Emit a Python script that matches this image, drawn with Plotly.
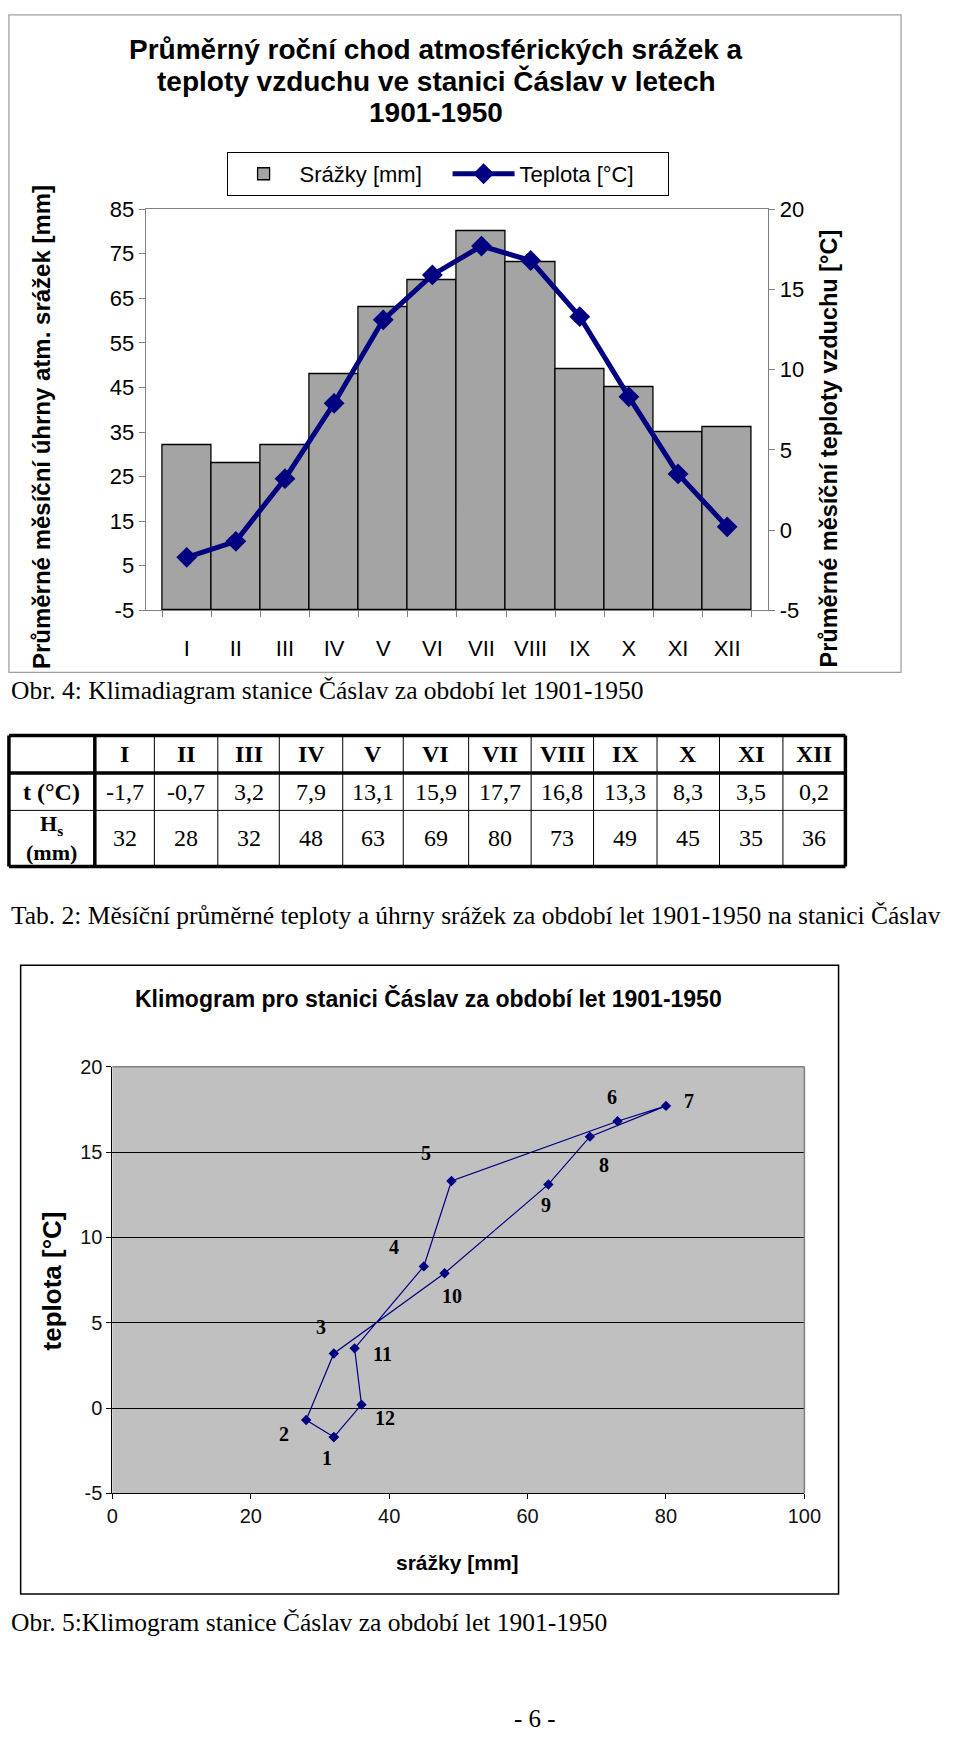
import plotly.graph_objects as go

# ---------------- data ----------------
months = ["I", "II", "III", "IV", "V", "VI", "VII", "VIII", "IX", "X", "XI", "XII"]
temps = [-1.7, -0.7, 3.2, 7.9, 13.1, 15.9, 17.7, 16.8, 13.3, 8.3, 3.5, 0.2]
precip = [32, 28, 32, 48, 63, 69, 80, 73, 49, 45, 35, 36]

left_ticks = [-5, 5, 15, 25, 35, 45, 55, 65, 75, 85]
right_ticks = [-5, 0, 5, 10, 15, 20]
klimo_x_ticks = [0, 20, 40, 60, 80, 100]
klimo_y_ticks = [-5, 0, 5, 10, 15, 20]

# labels of the klimogram points as printed in the figure, and the point each one sits next to
klimo_labels = ["1", "2", "3", "4", "5", "6", "7", "8", "9", "10", "11", "12"]
klimo_label_point = [0, 1, 2, 9, 8, 7, 6, 5, 4, 3, 10, 11]

title1_lines = ["Průměrný roční chod atmosférických srážek a",
                "teploty vzduchu ve stanici Čáslav v letech",
                "1901-1950"]
title2 = "Klimogram pro stanici Čáslav za období let 1901-1950"
cap1 = "Obr. 4: Klimadiagram stanice Čáslav za období let 1901-1950"
cap2 = "Tab. 2: Měsíční průměrné teploty a úhrny srážek za období let 1901-1950 na stanici Čáslav"
cap3 = "Obr. 5:Klimogram stanice Čáslav za období let 1901-1950"
row_heads = ["t (°C)", "H<sub>s</sub><br>(mm)"]

# ---------------- layout helpers ----------------
W, H = 960, 1743
SANS = "Liberation Sans, Arial, sans-serif"
SERIF = "Liberation Serif, Times New Roman, serif"


def px(x):
    return x / W


def py(y):
    return 1 - y / H


def tick_text(vals):
    return [str(v) for v in vals]


# label offsets in pixels (dx right, dy down)
label_off = [(-7, 21), (-22, 14), (-13, -26), (-30, -19), (-25, -28), (-6, -24),
             (23, -5), (14, 28), (-2, 21), (7, 23), (28, 6), (23, 13)]

fig = go.Figure()

# ---------- top chart ----------
LEFT_MIN = left_ticks[0]
fig.add_trace(go.Bar(
    x=months, y=[p - LEFT_MIN for p in precip], base=LEFT_MIN,
    name="Srážky [mm]", marker=dict(color="#A4A4A4", line=dict(color="black", width=1.3)),
    xaxis="x", yaxis="y"))
fig.add_trace(go.Scatter(
    x=months, y=temps, name="Teplota [°C]", mode="lines+markers",
    line=dict(color="#000080", width=5),
    marker=dict(symbol="diamond", size=16, color="#000080"),
    xaxis="x", yaxis="y2"))

# ---------- klimogram ----------
fig.add_trace(go.Scatter(
    x=precip + precip[:1], y=temps + temps[:1], mode="lines+markers",
    line=dict(color="#000080", width=1.2),
    marker=dict(symbol="diamond", size=8, color="#000080"),
    showlegend=False, xaxis="x2", yaxis="y3"))

ax_common = dict(showgrid=False, zeroline=False, ticks="outside", ticklen=6,
                 tickcolor="#808080", linecolor="#808080", showline=True)

layout = dict(
    width=W, height=H, margin=dict(l=0, r=0, t=0, b=0),
    paper_bgcolor="white", plot_bgcolor="rgba(0,0,0,0)",
    bargap=0,
    font=dict(family=SANS, color="black"),
    xaxis=dict(domain=[px(143), px(781)], anchor="y", type="category",
               tickson="boundaries", mirror=True, ticklabelstandoff=18,
               tickfont=dict(size=22, family=SANS), **ax_common),
    yaxis=dict(domain=[py(607), py(200)], anchor="x", range=[-5, 85],
               tickvals=left_ticks, ticktext=tick_text(left_ticks),
               tickfont=dict(size=22, family=SANS), **ax_common),
    yaxis2=dict(domain=[py(607), py(200)], anchor="x", overlaying="y", side="right",
                range=[-5, 20], tickvals=right_ticks, ticktext=tick_text(right_ticks),
                tickfont=dict(size=22, family=SANS), **ax_common),
    xaxis2=dict(domain=[px(109), px(818)], anchor="y3", range=[0, 100],
                tickvals=klimo_x_ticks, ticktext=tick_text(klimo_x_ticks),
                showgrid=False, zeroline=False, ticks="outside",
                ticklen=5, tickcolor="black", showline=True, linecolor="black",
                tickfont=dict(size=20, family=SANS, color="#111")),
    yaxis3=dict(domain=[py(1503), py(1070)], anchor="x2", range=[-5, 20],
                tickvals=klimo_y_ticks, ticktext=tick_text(klimo_y_ticks),
                showgrid=True, gridcolor="black", gridwidth=1,
                zeroline=False, ticks="outside", ticklen=5, tickcolor="black",
                showline=True, linecolor="black",
                tickfont=dict(size=20, family=SANS, color="#111")),
    legend=dict(orientation="h", x=px(226), y=py(142), xanchor="left", yanchor="top",
                bordercolor="black", borderwidth=1, bgcolor="white",
                font=dict(size=22, family=SANS), itemwidth=62, entrywidth=143,
                traceorder="normal"),
)
fig.update_layout(**layout)

shapes = []
annotations = []


def text(t, x, y, size, family=SANS, xanchor="center", yanchor="middle", angle=0):
    annotations.append(dict(text=t, xref="paper", yref="paper", x=px(x), y=py(y),
                            xanchor=xanchor, yanchor=yanchor, textangle=angle,
                            showarrow=False, font=dict(size=size, family=family, color="black")))


# outer frame of top chart
shapes.append(dict(type="rect", xref="paper", yref="paper", x0=px(3), x1=px(917),
                   y0=py(670), y1=py(3), line=dict(color="#A0A0A0", width=1.3)))
# klimogram frame
shapes.append(dict(type="rect", xref="paper", yref="paper", x0=px(15), x1=px(853),
                   y0=py(1605), y1=py(967), line=dict(color="black", width=1.5)))
# klimogram plot background
shapes.append(dict(type="rect", xref="x2 domain", yref="y3 domain", x0=0, x1=1, y0=0, y1=1,
                   fillcolor="#C0C0C0", line=dict(width=0), layer="below"))
shapes.append(dict(type="line", xref="x2 domain", yref="y3 domain", x0=0, x1=1, y0=1, y1=1,
                   line=dict(color="#808080", width=1.5), layer="above"))
shapes.append(dict(type="line", xref="x2 domain", yref="y3 domain", x0=1, x1=1, y0=0, y1=1,
                   line=dict(color="#808080", width=1.5), layer="above"))

# titles
for k, line in enumerate(title1_lines):
    text("<b>" + line + "</b>", 441, 38 + 32 * k, 28)
text("<b>Průměrné měsíční úhrny atm. srážek [mm]</b>", 37, 421, 24, angle=-90)
text("<b>Průměrné měsíční teploty vzduchu [°C]</b>", 843, 443, 23.5, angle=-90)
text(cap1, 3, 688, 25.5, family=SERIF, xanchor="left")

# ---------- table ----------
col_edges = [3, 91, 152, 217, 280, 345, 407, 474, 538, 602, 667, 731, 796, 860]
row_edges = [734, 772, 810, 867]
for i, cx in enumerate(col_edges):
    w = 3.5 if i in (0, 1, len(col_edges) - 1) else 1
    shapes.append(dict(type="line", xref="paper", yref="paper", x0=px(cx), x1=px(cx),
                       y0=py(row_edges[0]), y1=py(row_edges[-1]), line=dict(color="black", width=w)))
for j, ry in enumerate(row_edges):
    w = 3.5 if j in (0, 1, len(row_edges) - 1) else 1
    shapes.append(dict(type="line", xref="paper", yref="paper", x0=px(col_edges[0]),
                       x1=px(col_edges[-1]), y0=py(ry), y1=py(ry),
                       line=dict(color="black", width=w)))


def cell(t, c, r, bold=False, size=24):
    xc = (col_edges[c] + col_edges[c + 1]) / 2
    yc = (row_edges[r] + row_edges[r + 1]) / 2
    text("<b>" + t + "</b>" if bold else t, xc, yc, size, family=SERIF)


for i, m in enumerate(months):
    cell(m, i + 1, 0, bold=True)
    cell(f"{temps[i]:.1f}".replace(".", ","), i + 1, 1)
    cell(str(precip[i]), i + 1, 2)
cell(row_heads[0], 0, 1, bold=True)
cell(row_heads[1], 0, 2, bold=True, size=22)

text(cap2, 3, 917, 25.5, family=SERIF, xanchor="left")

# ---------- klimogram texts ----------
text("<b>" + title2 + "</b>", 433, 1001, 23)
text("<b>srážky [mm]</b>", 463, 1573, 21)
text("<b>teplota [°C]</b>", 47, 1287, 26, angle=-90)
for lab, pi, (dx, dy) in zip(klimo_labels, klimo_label_point, label_off):
    annotations.append(dict(text="<b>" + lab + "</b>", xref="x2", yref="y3",
                            x=precip[pi], y=temps[pi], xshift=dx, yshift=-dy,
                            xanchor="center", yanchor="middle",
                            showarrow=False, font=dict(size=20, family=SERIF, color="black")))

text(cap3, 3, 1634, 25.5, family=SERIF, xanchor="left")
text("- 6 -", 542, 1731, 25, family=SERIF)

fig.update_layout(shapes=shapes, annotations=annotations)

page_css = ("var s=[document.documentElement, document.body];"
            "s.forEach(function(e){e.style.margin='0';e.style.padding='0';e.style.overflow='hidden';});")
fig.write_html("out.html", config={"displayModeBar": False}, post_script=page_css)
